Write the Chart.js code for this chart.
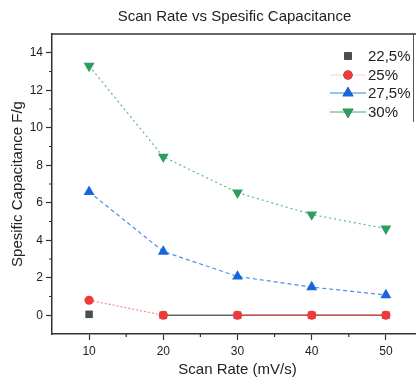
<!DOCTYPE html>
<html>
<head>
<meta charset="utf-8">
<script src="https://cdn.jsdelivr.net/npm/chart.js@4.4.0/dist/chart.umd.min.js"></script>
<style>
  html, body { margin: 0; padding: 0; background: #fff; overflow: hidden; }
  #wrap { width: 430px; height: 381px; }
</style>
</head>
<body>
<div id="wrap"><canvas id="chart" width="430" height="381"></canvas></div>
<script>
// data
const scanRates = [10, 20, 30, 40, 50];
const seriesNames = ['22,5%', '25%', '27,5%', '30%'];
const cap225 = [0.05, 0, 0, 0, 0];
const cap25 = [0.8, 0, 0, 0, 0];
const cap275 = [6.58, 3.4, 2.07, 1.5, 1.08];
const cap30 = [13.3, 8.45, 6.54, 5.37, 4.62];
const xTicks = [10, 20, 30, 40, 50];
const xMinor = [15, 25, 35, 45];
const yTicks = [0, 2, 4, 6, 8, 10, 12, 14];
const yMinor = [1, 3, 5, 7, 9, 11, 13];

const FONT = 'Liberation Sans, Arial, sans-serif';
const TEXT = '#222';
const AXIS = '#333';
const NONE = 'rgba(0,0,0,0)';

const pts = (ys) => scanRates.map((x, i) => ({ x, y: ys[i] }));

// Legend + title + minor ticks + frame, drawn by hand
const extras = {
  id: 'extras',
  afterDraw(chart) {
    const { ctx, chartArea: a, scales } = chart;
    ctx.save();
    // top frame line
    ctx.strokeStyle = AXIS;
    ctx.lineWidth = 1.5;
    ctx.beginPath();
    ctx.moveTo(a.left, a.top); ctx.lineTo(a.right, a.top);
    ctx.moveTo(a.right, a.top); ctx.lineTo(a.right, a.bottom);
    ctx.stroke();
    // minor ticks
    ctx.lineWidth = 1.2;
    ctx.beginPath();
    xMinor.forEach(v => {
      const px = scales.x.getPixelForValue(v);
      ctx.moveTo(px, a.bottom); ctx.lineTo(px, a.bottom + 3);
    });
    yMinor.forEach(v => {
      const py = scales.y.getPixelForValue(v);
      ctx.moveTo(a.left, py); ctx.lineTo(a.left - 3, py);
    });
    ctx.stroke();

    // title
    ctx.fillStyle = TEXT;
    ctx.font = '15px ' + FONT;
    ctx.textAlign = 'center';
    ctx.textBaseline = 'middle';
    ctx.fillText('Scan Rate vs Spesific Capacitance', (a.left + a.right) / 2 - 3, 17);

    // legend
    const rows = [56, 75, 93, 112];
    const lineCols = [null, '#fbd0d0', '#3d82ea', '#3fae6e'];
    chart.data.datasets.forEach((ds, i) => {
      const y = rows[i];
      if (lineCols[i]) {
        ctx.strokeStyle = lineCols[i];
        ctx.lineWidth = 1.2;
        ctx.beginPath();
        ctx.moveTo(330, y); ctx.lineTo(366, y);
        ctx.stroke();
      }
      Chart.helpers.drawPoint(ctx, {
        pointStyle: ds.pointStyle, radius: ds.pointRadius, rotation: ds.pointRotation || 0, borderWidth: 0
      }, 348, y);
      ctx.fillStyle = ds.pointBackgroundColor;
      ctx.fill();
      ctx.fillStyle = TEXT;
      ctx.font = '15px ' + FONT;
      ctx.textAlign = 'left';
      ctx.textBaseline = 'middle';
      ctx.fillText(ds.label, 368, y + 1);
    });
    // legend box right edge
    ctx.strokeStyle = '#555';
    ctx.lineWidth = 1;
    ctx.beginPath();
    ctx.moveTo(413.5, a.top); ctx.lineTo(413.5, 122);
    ctx.stroke();
    ctx.restore();
  }
};

new Chart(document.getElementById('chart'), {
  type: 'line',
  data: {
    datasets: [
      {
        label: seriesNames[3], data: pts(cap30), order: 1,
        borderColor: '#5dbb85', borderWidth: 1.2, borderDash: [2, 3],
        pointStyle: 'triangle', pointRotation: 180, pointRadius: 6.3,
        pointBackgroundColor: '#2e9e5e', pointBorderWidth: 0
      },
      {
        label: seriesNames[2], data: pts(cap275), order: 2,
        borderColor: '#4d8def', borderWidth: 1.2, borderDash: [4, 3],
        pointStyle: 'triangle', pointRadius: 6.3,
        pointBackgroundColor: '#1766e0', pointBorderWidth: 0
      },
      {
        label: seriesNames[1], data: pts(cap25), order: 3,
        borderWidth: 1.2,
        segment: {
          borderColor: c => c.p0DataIndex === 0 ? '#f58a8a' : (c.p0DataIndex === 1 ? NONE : '#f04646'),
          borderDash: c => c.p0DataIndex === 0 ? [2, 2] : []
        },
        pointStyle: 'circle', pointRadius: 4.6,
        pointBackgroundColor: '#f03a3a', pointBorderWidth: 0
      },
      {
        label: seriesNames[0], data: pts(cap225), order: 4,
        borderWidth: 1.4,
        segment: {
          borderColor: c => c.p0DataIndex === 0 ? NONE : '#666'
        },
        pointStyle: 'rect', pointRadius: 5.3,
        pointBackgroundColor: '#4d4d4d', pointBorderWidth: 0
      }
    ].reverse()
  },
  options: {
    responsive: false,
    animation: false,
    layout: { padding: { top: 34, right: 7, left: 0, bottom: 0 } },
    plugins: { legend: { display: false }, title: { display: false }, tooltip: { enabled: false } },
    scales: {
      x: {
        type: 'linear', min: 5, max: 55,
        afterBuildTicks: s => { s.ticks = xTicks.map(v => ({ value: v })); },
        afterFit: s => { s.height = 47; },
        grid: { drawOnChartArea: false, tickLength: 6, tickColor: AXIS, tickWidth: 1.2 },
        border: { color: AXIS, width: 1.5 },
        ticks: { font: { family: FONT, size: 12 }, color: TEXT, padding: 4, maxRotation: 0 },
        title: { display: true, text: 'Scan Rate (mV/s)', font: { family: FONT, size: 15 }, color: TEXT, padding: { top: 0, bottom: 2 } }
      },
      y: {
        type: 'linear', min: -1, max: 15,
        afterBuildTicks: s => { s.ticks = yTicks.map(v => ({ value: v })); },
        afterFit: s => { s.width = 52; },
        grid: { drawOnChartArea: false, tickLength: 6, tickColor: AXIS, tickWidth: 1.2 },
        border: { color: AXIS, width: 1.5 },
        ticks: { font: { family: FONT, size: 12 }, color: TEXT, padding: 3 },
        title: { display: true, text: 'Spesific Capacitance F/g', font: { family: FONT, size: 15 }, color: TEXT, padding: { top: 9, bottom: 0 } }
      }
    }
  },
  plugins: [extras]
});
</script>
</body>
</html>
